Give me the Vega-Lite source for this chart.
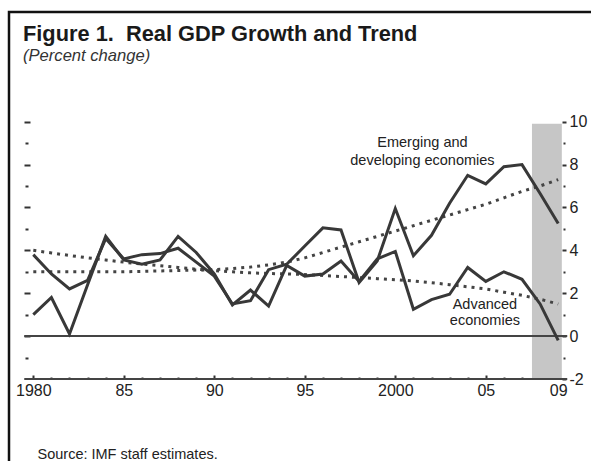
{
  "$schema": "https://vega.github.io/schema/vega-lite/v6.json",
  "autosize": "none",
  "width": 588,
  "height": 455,
  "padding": {"left": 9, "top": 12, "right": -6, "bottom": -6},
  "background": "white",
  "config": {
    "view": {"stroke": "#111111", "strokeWidth": 2.5},
    "font": "Liberation Sans",
    "axis": {"grid": false, "domain": false, "tickColor": "#333333", "tickWidth": 2, "labelFont": "Liberation Sans", "labelColor": "#222222", "labelFontSize": 16}
  },
  "title": {
    "text": "Figure 1.\u00a0 Real GDP Growth and Trend",
    "subtitle": "(Percent change)",
    "anchor": "start",
    "frame": "group",
    "orient": "top",
    "offset": -53,
    "dx": 14,
    "font": "Liberation Sans",
    "fontSize": 21.8,
    "fontWeight": "bold",
    "color": "#1a1a1a",
    "subtitleFont": "Liberation Sans",
    "subtitleFontSize": 16.6,
    "subtitleFontStyle": "italic",
    "subtitleColor": "#333333",
    "subtitlePadding": 3
  },
  "data": {"values": [
    {"year": 1980, "emerging": 3.8, "advanced": 1.0, "emerging_trend": 3.0, "advanced_trend": 4.0},
    {"year": 1981, "emerging": 2.9, "advanced": 1.8, "emerging_trend": 3.0, "advanced_trend": 3.88},
    {"year": 1982, "emerging": 2.2, "advanced": 0.1, "emerging_trend": 3.0, "advanced_trend": 3.76},
    {"year": 1983, "emerging": 2.6, "advanced": 2.4, "emerging_trend": 3.0, "advanced_trend": 3.65},
    {"year": 1984, "emerging": 4.55, "advanced": 4.65, "emerging_trend": 3.0, "advanced_trend": 3.55},
    {"year": 1985, "emerging": 3.6, "advanced": 3.55, "emerging_trend": 3.0, "advanced_trend": 3.45},
    {"year": 1986, "emerging": 3.8, "advanced": 3.35, "emerging_trend": 3.02, "advanced_trend": 3.36},
    {"year": 1987, "emerging": 3.85, "advanced": 3.55, "emerging_trend": 3.04, "advanced_trend": 3.28},
    {"year": 1988, "emerging": 4.1, "advanced": 4.65, "emerging_trend": 3.06, "advanced_trend": 3.2},
    {"year": 1989, "emerging": 3.45, "advanced": 3.9, "emerging_trend": 3.08, "advanced_trend": 3.12},
    {"year": 1990, "emerging": 2.8, "advanced": 2.9, "emerging_trend": 3.1, "advanced_trend": 3.05},
    {"year": 1991, "emerging": 1.5, "advanced": 1.45, "emerging_trend": 3.15, "advanced_trend": 3.0},
    {"year": 1992, "emerging": 1.65, "advanced": 2.15, "emerging_trend": 3.22, "advanced_trend": 2.95},
    {"year": 1993, "emerging": 3.1, "advanced": 1.4, "emerging_trend": 3.32, "advanced_trend": 2.92},
    {"year": 1994, "emerging": 3.35, "advanced": 3.3, "emerging_trend": 3.45, "advanced_trend": 2.9},
    {"year": 1995, "emerging": 4.2, "advanced": 2.8, "emerging_trend": 3.65, "advanced_trend": 2.87},
    {"year": 1996, "emerging": 5.05, "advanced": 2.9, "emerging_trend": 3.9, "advanced_trend": 2.83},
    {"year": 1997, "emerging": 4.95, "advanced": 3.5, "emerging_trend": 4.15, "advanced_trend": 2.78},
    {"year": 1998, "emerging": 2.5, "advanced": 2.55, "emerging_trend": 4.4, "advanced_trend": 2.73},
    {"year": 1999, "emerging": 3.5, "advanced": 3.6, "emerging_trend": 4.65, "advanced_trend": 2.68},
    {"year": 2000, "emerging": 5.95, "advanced": 3.95, "emerging_trend": 4.9, "advanced_trend": 2.63},
    {"year": 2001, "emerging": 3.75, "advanced": 1.25, "emerging_trend": 5.15, "advanced_trend": 2.57},
    {"year": 2002, "emerging": 4.7, "advanced": 1.7, "emerging_trend": 5.4, "advanced_trend": 2.49},
    {"year": 2003, "emerging": 6.2, "advanced": 1.95, "emerging_trend": 5.65, "advanced_trend": 2.4},
    {"year": 2004, "emerging": 7.5, "advanced": 3.2, "emerging_trend": 5.9, "advanced_trend": 2.3},
    {"year": 2005, "emerging": 7.1, "advanced": 2.55, "emerging_trend": 6.15, "advanced_trend": 2.2},
    {"year": 2006, "emerging": 7.9, "advanced": 3.0, "emerging_trend": 6.45, "advanced_trend": 2.05},
    {"year": 2007, "emerging": 8.0, "advanced": 2.65, "emerging_trend": 6.75, "advanced_trend": 1.9},
    {"year": 2008, "emerging": 6.65, "advanced": 1.5, "emerging_trend": 7.0, "advanced_trend": 1.72},
    {"year": 2009, "emerging": 5.25, "advanced": -0.2, "emerging_trend": 7.3, "advanced_trend": 1.5}
  ]},
  "layer": [
    {
      "data": {"values": [{}]},
      "mark": {"type": "rect", "color": "#c6c6c6"},
      "encoding": {
        "x": {"datum": 2007.55, "type": "quantitative", "scale": {"domain": [1979.5, 2009.5], "range": [15.25, 558.25], "nice": false, "zero": false}, "axis": null},
        "x2": {"datum": 2009.2},
        "y": {"datum": -2, "type": "quantitative", "scale": {"domain": [-2, 10], "range": [367, 109.7], "nice": false, "zero": false}, "axis": null},
        "y2": {"datum": 9.9}
      }
    },
    {
      "data": {"values": [{}]},
      "mark": {"type": "rule", "color": "#444444", "strokeWidth": 2},
      "encoding": {
        "x": {"datum": 1979.5, "type": "quantitative", "scale": {"domain": [1979.5, 2009.5], "range": [15.25, 558.25], "nice": false, "zero": false}, "axis": null},
        "x2": {"datum": 2009.5},
        "y": {"datum": 0, "type": "quantitative", "scale": {"domain": [-2, 10], "range": [367, 109.7], "nice": false, "zero": false}, "axis": null}
      }
    },
    {
      "data": {"values": [{}]},
      "mark": {"type": "rule", "color": "#444444", "strokeWidth": 2},
      "encoding": {
        "x": {"datum": 1979.5, "type": "quantitative", "scale": {"domain": [1979.5, 2009.5], "range": [15.25, 558.25], "nice": false, "zero": false}, "axis": null},
        "x2": {"datum": 2009.5},
        "y": {"datum": -2, "type": "quantitative", "scale": {"domain": [-2, 10], "range": [367, 109.7], "nice": false, "zero": false}, "axis": null}
      }
    },
    {
      "mark": {"type": "line", "color": "#444444", "strokeWidth": 3, "strokeDash": [3, 5], "strokeCap": "butt"},
      "encoding": {
        "x": {"field": "year", "type": "quantitative", "scale": {"domain": [1979.5, 2009.5], "range": [15.25, 558.25], "nice": false, "zero": false}, "axis": null},
        "y": {"field": "emerging_trend", "type": "quantitative", "scale": {"domain": [-2, 10], "range": [367, 109.7], "nice": false, "zero": false},
          "axis": {"orient": "right", "values": [-2, 0, 2, 4, 6, 8, 10], "labelExpr": "'' + datum.value", "tickSize": 4, "offset": -35, "labelPadding": 3, "title": null}}
      }
    },
    {
      "mark": {"type": "line", "color": "#444444", "strokeWidth": 3, "strokeDash": [3, 5], "strokeCap": "butt"},
      "encoding": {
        "x": {"field": "year", "type": "quantitative", "scale": {"domain": [1979.5, 2009.5], "range": [15.25, 558.25], "nice": false, "zero": false}, "axis": null},
        "y": {"field": "advanced_trend", "type": "quantitative", "scale": {"domain": [-2, 10], "range": [367, 109.7], "nice": false, "zero": false},
          "axis": {"orient": "right", "values": [-1, 1, 3, 5, 7, 9], "labels": false, "tickSize": 2, "offset": -34, "title": null}}
      }
    },
    {
      "mark": {"type": "line", "color": "#383838", "strokeWidth": 3},
      "encoding": {
        "x": {"field": "year", "type": "quantitative", "scale": {"domain": [1979.5, 2009.5], "range": [15.25, 558.25], "nice": false, "zero": false},
          "axis": {"orient": "bottom", "values": [1980, 1985, 1990, 1995, 2000, 2005, 2009], "labelExpr": "datum.value % 20 == 0 ? '' + datum.value : substring('' + datum.value, 2)", "tickSize": 4, "offset": -92, "labelPadding": 3, "labelFlush": false, "labelOverlap": false,
            "title": "Source: IMF staff estimates.", "titleX": 28, "titleY": 83, "titleAlign": "left", "titleBaseline": "alphabetic", "titleFontWeight": "normal", "titleFontSize": 14.5, "titleColor": "#222222", "titleFont": "Liberation Sans"}},
        "y": {"field": "emerging", "type": "quantitative", "scale": {"domain": [-2, 10], "range": [367, 109.7], "nice": false, "zero": false},
          "axis": {"orient": "left", "values": [0, 2, 4, 6, 8, 10], "labels": false, "tickSize": 6, "offset": -21, "title": null}}
      }
    },
    {
      "mark": {"type": "line", "color": "#383838", "strokeWidth": 3},
      "encoding": {
        "x": {"field": "year", "type": "quantitative", "scale": {"domain": [1979.5, 2009.5], "range": [15.25, 558.25], "nice": false, "zero": false},
          "axis": {"orient": "bottom", "values": [1981, 1982, 1983, 1984, 1986, 1987, 1988, 1989, 1991, 1992, 1993, 1994, 1996, 1997, 1998, 1999, 2001, 2002, 2003, 2004, 2006, 2007, 2008], "labels": false, "tickSize": 2, "offset": -90, "title": null}},
        "y": {"field": "advanced", "type": "quantitative", "scale": {"domain": [-2, 10], "range": [367, 109.7], "nice": false, "zero": false},
          "axis": {"orient": "left", "values": [-1, 1, 3, 5, 7, 9], "labels": false, "tickSize": 3, "offset": -19, "title": null}}
      }
    },
    {
      "data": {"values": [{}]},
      "mark": {"type": "text", "align": "center", "baseline": "alphabetic", "fontSize": 14.5, "lineHeight": 18, "fill": "#222222", "font": "Liberation Sans"},
      "encoding": {
        "x": {"datum": 2001.5, "type": "quantitative", "scale": {"domain": [1979.5, 2009.5], "range": [15.25, 558.25], "nice": false, "zero": false}, "axis": null},
        "y": {"datum": 8.82, "type": "quantitative", "scale": {"domain": [-2, 10], "range": [367, 109.7], "nice": false, "zero": false}, "axis": null},
        "text": {"value": ["Emerging and", "developing economies"]}
      }
    },
    {
      "data": {"values": [{}]},
      "mark": {"type": "text", "align": "center", "baseline": "alphabetic", "fontSize": 14.5, "lineHeight": 16, "fill": "#222222", "font": "Liberation Sans"},
      "encoding": {
        "x": {"datum": 2004.95, "type": "quantitative", "scale": {"domain": [1979.5, 2009.5], "range": [15.25, 558.25], "nice": false, "zero": false}, "axis": null},
        "y": {"datum": 1.26, "type": "quantitative", "scale": {"domain": [-2, 10], "range": [367, 109.7], "nice": false, "zero": false}, "axis": null},
        "text": {"value": ["Advanced", "economies"]}
      }
    }
  ],
  "resolve": {"axis": {"x": "independent", "y": "independent"}}
}
